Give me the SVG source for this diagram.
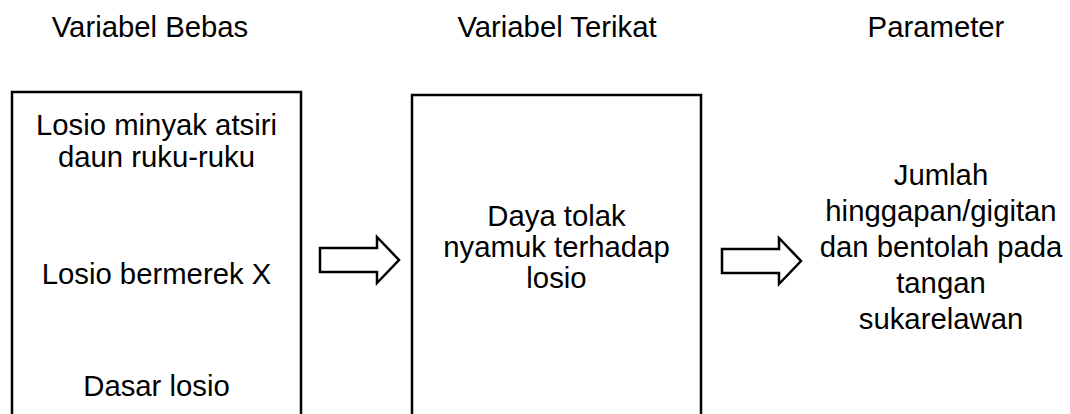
<svg xmlns="http://www.w3.org/2000/svg" width="1070" height="414" viewBox="0 0 1070 414">
<style>
text{font-family:"Liberation Sans",Arial,sans-serif;font-size:29.3px;fill:#000;text-anchor:middle}
.box{fill:#fff;stroke:#000;stroke-width:2.5}
.arr{fill:#fff;stroke:#000;stroke-width:2.5;stroke-linejoin:miter}
</style>
<rect width="1070" height="414" fill="#fff"/>
<g id="headers">
<text x="150" y="37">Variabel Bebas</text>
<text x="557" y="37">Variabel Terikat</text>
<text x="936" y="37">Parameter</text>
</g>
<g id="node-bebas">
<rect class="box" x="12" y="92" width="289" height="340"/>
<text x="156.5" y="135">Losio minyak atsiri</text>
<text x="156.5" y="167">daun ruku-ruku</text>
<text x="156.5" y="284">Losio bermerek X</text>
<text x="156.5" y="396">Dasar losio</text>
</g>
<g id="node-terikat">
<rect class="box" x="412" y="95" width="289" height="340"/>
<text x="556.5" y="226">Daya tolak</text>
<text x="556.5" y="257">nyamuk terhadap</text>
<text x="556.5" y="288">losio</text>
</g>
<g id="node-parameter">
<text x="941" y="185">Jumlah</text>
<text x="941" y="221">hinggapan/gigitan</text>
<text x="941" y="257">dan bentolah pada</text>
<text x="941" y="293">tangan</text>
<text x="941" y="329">sukarelawan</text>
</g>
<g id="connectors">
<polygon class="arr" points="320,248 377,248 377,237 399,260 377,283 377,272 320,272"/>
<polygon class="arr" points="722,249 779,249 779,238 801,261 779,284 779,273 722,273"/>
</g>
</svg>
